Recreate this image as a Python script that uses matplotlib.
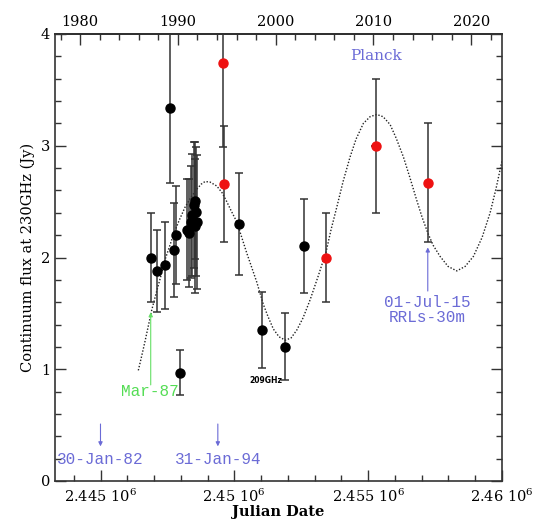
import matplotlib
matplotlib.use("Agg")
import matplotlib.pyplot as plt
from matplotlib.ticker import MultipleLocator, FixedLocator

plt.rcParams['mathtext.fontset'] = 'dejavuserif'
plt.rcParams['font.family'] = ['DejaVu Serif']

# ---- data (Julian Date, flux in Jy) ----
black_jd = [2446876, 2447123, 2447399, 2447598, 2447758, 2447822, 2447971,
            2448214, 2448289, 2448363, 2448419, 2448476, 2448513, 2448531,
            2448569, 2448606,
            2450176, 2451024, 2451906, 2452594]
black_flux = [2.00, 1.88, 1.93, 3.335, 2.07, 2.20, 0.97,
              2.25, 2.22, 2.32, 2.38, 2.47, 2.28, 2.51,
              2.41, 2.32,
              2.30, 1.35, 1.20, 2.10]
black_err = [0.40, 0.37, 0.39, 0.67, 0.42, 0.44, 0.20,
             0.45, 0.48, 0.50, 0.55, 0.56, 0.60, 0.52,
             0.58, 0.60,
             0.46, 0.34, 0.30, 0.42]

red_jd = [2449567, 2449616, 2453427, 2455296, 2457227]
red_flux = [3.74, 2.66, 2.00, 3.00, 2.67]
red_err = [0.75, 0.52, 0.40, 0.60, 0.53]
red_xerr = [0, 0, 0, 190, 0]

# dotted model curve
curve_jd = [2446413, 2446540, 2446663, 2446914, 2447101, 2447250, 2447411,
            2447721, 2447934, 2448158, 2448382, 2448595, 2448756, 2448906,
            2449092, 2449343, 2449541, 2449717, 2449877, 2450090, 2450277,
            2450464, 2450651, 2450838, 2451084, 2451260, 2451458, 2451671,
            2451906, 2452119, 2452332, 2452568, 2452829, 2453128, 2453427,
            2453614, 2453827, 2454063, 2454324, 2454548, 2454821, 2455072,
            2455322, 2455557, 2455819, 2456043, 2456316, 2456566, 2456817,
            2457015, 2457228, 2457426, 2457687, 2457986, 2458311, 2458622,
            2458932, 2459257, 2459556, 2459780, 2460005]
curve_flux = [0.99, 1.12, 1.25, 1.53, 1.70, 1.83, 1.98,
              2.20, 2.33, 2.45, 2.54, 2.61, 2.655, 2.68,
              2.675, 2.64, 2.58, 2.50, 2.42, 2.32, 2.18,
              2.04, 1.91, 1.78, 1.58, 1.47, 1.36, 1.29,
              1.26, 1.28, 1.35, 1.46, 1.62, 1.83, 2.05,
              2.25, 2.45, 2.68, 2.90, 3.06, 3.20, 3.26,
              3.28, 3.26, 3.19, 3.07, 2.90, 2.71, 2.51,
              2.36, 2.22, 2.11, 2.01, 1.92, 1.88, 1.92,
              2.01, 2.18, 2.40, 2.62, 2.87]

# annotations
blue_dates = ["30-Jan-82", "31-Jan-94"]
blue_jd = [2444999.5, 2449383.5]
green_label = "Mar-87"
green_jd = 2446876
rrl_label = "01-Jul-15\nRRLs-30m"
rrl_jd = 2457227
planck_label = "Planck"
planck_jd = 2455296
ghz_label = "209GHz"
ghz_jd = 2451906

xticks = [2445000, 2450000, 2455000, 2460000]
xtick_labels = [r'2.445 10$^{6}$', r'2.45 10$^{6}$', r'2.455 10$^{6}$', r'2.46 10$^{6}$']
year_ticks = [1980, 1990, 2000, 2010, 2020]

# ---- figure ----
fig = plt.figure(figsize=(5.37, 5.21), dpi=100)
ax = fig.add_axes([55/537, 1-481/521, 447/537, 447/521])
ax.set_xlim(2443300, 2460000)
ax.set_ylim(0, 4)

ebc = '#333333'
ax.errorbar(black_jd, black_flux, yerr=black_err, fmt='o', ms=6.5, mfc='black',
            mec='black', ecolor=ebc, elinewidth=1.1, capsize=3, capthick=1.1, zorder=3)
ax.errorbar(red_jd, red_flux, yerr=red_err, fmt='none', ecolor=ebc,
            elinewidth=1.1, capsize=3, capthick=1.1, zorder=3)
ax.errorbar(red_jd, red_flux, xerr=red_xerr, fmt='none', ecolor=ebc,
            elinewidth=1.3, capsize=0, zorder=3)
ax.plot(red_jd, red_flux, 'o', ms=6.5, color='#ee1111', zorder=4)

ax.plot(curve_jd, curve_flux, color='#222222', lw=1.0, ls=(0, (1, 1.3)), zorder=2)

blue = '#6b6bd6'
for lab, jd in zip(blue_dates, blue_jd):
    ax.annotate('', xy=(jd, 0.31), xytext=(jd, 0.51),
                arrowprops=dict(arrowstyle='-|>', color=blue, lw=0.8,
                                mutation_scale=6, shrinkA=0, shrinkB=0))
    ax.text(jd, 0.19, lab, color=blue, ha='center', va='center',
            family='Liberation Mono', fontsize=11.5)

ax.annotate('', xy=(green_jd, 1.51), xytext=(green_jd, 0.86),
            arrowprops=dict(arrowstyle='-|>', color='#66e066', lw=0.8,
                            mutation_scale=6, shrinkA=0, shrinkB=0))
ax.text(green_jd - 50, 0.80, green_label, color='#55dd55', ha='center', va='center',
        family='Liberation Mono', fontsize=11.5)

ax.annotate('', xy=(rrl_jd, 2.09), xytext=(rrl_jd, 1.70),
            arrowprops=dict(arrowstyle='-|>', color=blue, lw=0.8,
                            mutation_scale=6, shrinkA=0, shrinkB=0))
ax.text(rrl_jd - 30, 1.53, rrl_label, color=blue, ha='center', va='center',
        family='Liberation Mono', fontsize=11.5, linespacing=1.0)

ax.text(planck_jd, 3.80, planck_label, color=blue, ha='center', va='center',
        fontsize=11)
ax.text(ghz_jd - 120, 0.90, ghz_label, color='black', ha='right', va='center',
        fontsize=5.5, fontweight='bold', family='DejaVu Sans')

# ---- axes styling ----
ax.xaxis.set_major_locator(FixedLocator(xticks))
ax.set_xticklabels(xtick_labels, fontsize=10.5)
ax.xaxis.set_minor_locator(MultipleLocator(1000))
ax.yaxis.set_major_locator(MultipleLocator(1))
ax.yaxis.set_minor_locator(MultipleLocator(0.2))
ax.tick_params(which='both', direction='in', top=False, right=True, labelsize=10.5,
               width=1.0, color='#333333')
ax.tick_params(which='major', length=8)
ax.tick_params(which='minor', length=4)
ax.tick_params(axis='x', pad=5)
for s in ax.spines.values():
    s.set_linewidth(1.2)
    s.set_color('#333333')

ax.set_xlabel('Julian Date', fontsize=10.5, labelpad=0, fontweight='bold')
ax.set_ylabel('Continuum flux at 230GHz (Jy)', fontsize=10.5, labelpad=4)

def jd2yr(jd):
    return 2000.0 + (jd - 2451545.0) / 365.25

def yr2jd(y):
    return 2451545.0 + (y - 2000.0) * 365.25

sec = ax.secondary_xaxis('top', functions=(jd2yr, yr2jd))
sec.xaxis.set_major_locator(FixedLocator(year_ticks))
sec.xaxis.set_minor_locator(MultipleLocator(2))
sec.tick_params(which='both', direction='in', labelsize=10.5, width=1.0, color='#333333')
sec.tick_params(which='major', length=8)
sec.tick_params(which='minor', length=4)
sec.spines['top'].set_linewidth(1.2)

fig.savefig('out.png', dpi=100)
